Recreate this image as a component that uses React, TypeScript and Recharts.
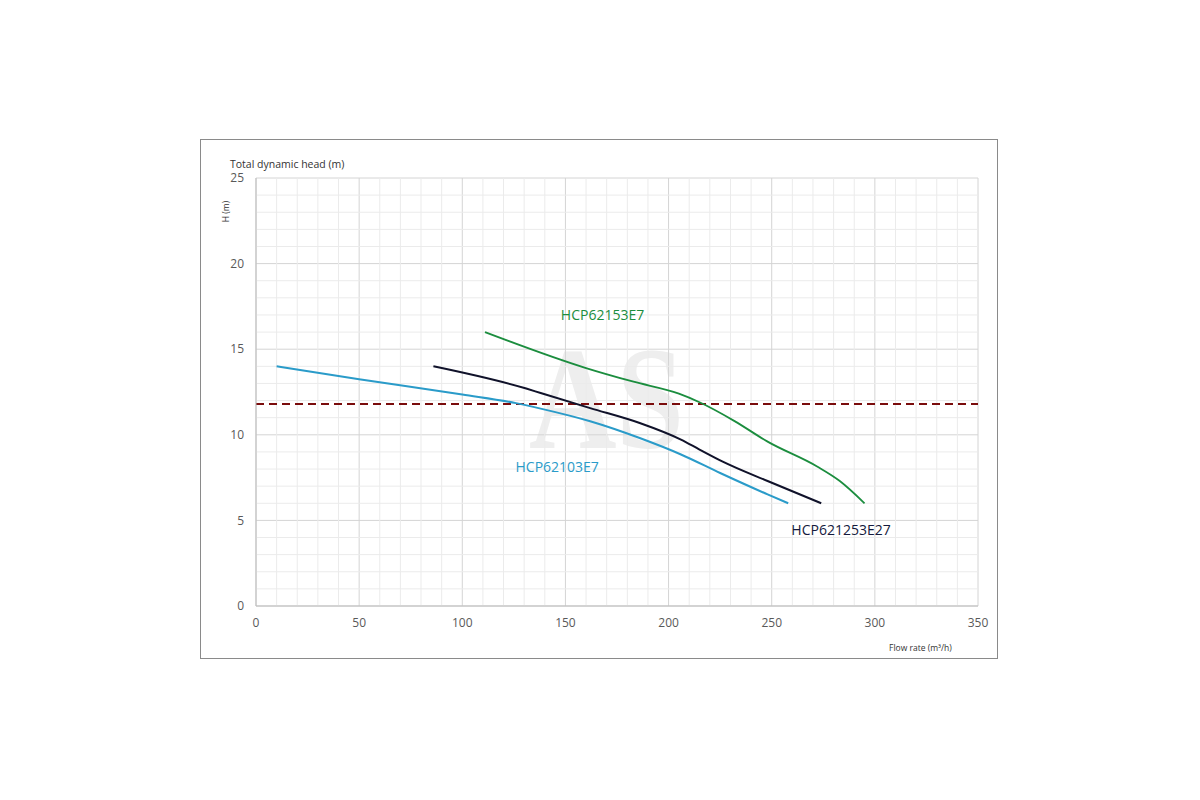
import { CartesianGrid, Line, LineChart, ReferenceDot, ReferenceLine, XAxis, YAxis } from "recharts";

// pump curves: flow rate (m³/h) vs head (m)
const q62103 = [10, 50, 100, 126, 138, 162, 186, 206, 225, 248, 258];
const h62103 = [14.0, 13.25, 12.35, 11.85, 11.53, 10.79, 9.81, 8.85, 7.77, 6.52, 6.0];

const q621253 = [86, 131, 138, 162, 186, 206, 215, 226, 248, 274];
const h621253 = [14.0, 12.7, 12.44, 11.56, 10.69, 9.72, 9.14, 8.45, 7.3, 6.0];

const q62153 = [111, 160, 183, 205, 215, 232, 248, 272, 283, 295];
const h62153 = [16.0, 13.9, 13.1, 12.4, 11.9, 10.8, 9.6, 8.15, 7.3, 6.0];

const dutyHead = 11.8;

const xTicks = [0, 50, 100, 150, 200, 250, 300, 350];
const yTicks = [0, 5, 10, 15, 20, 25];
const xMinor = [10, 20, 30, 40, 60, 70, 80, 90, 110, 120, 130, 140, 160, 170, 180, 190, 210, 220, 230, 240, 260, 270, 280, 290, 310, 320, 330, 340];
const yMinor = [1, 2, 3, 4, 6, 7, 8, 9, 11, 12, 13, 14, 16, 17, 18, 19, 21, 22, 23, 24];

const labels = [
  { name: "HCP62153E7", x: 168, y: 17.0, color: "#1b8d3e" },
  { name: "HCP62103E7", x: 146, y: 8.1, color: "#2a9bc9" },
  { name: "HCP621253E27", x: 283.6, y: 4.43, color: "#141a3c" },
];

const zip = (qs: number[], hs: number[]) => qs.map((q, i) => ({ q, h: hs[i] }));

const font = "'Open Sans', sans-serif";

export default function App() {
  return (
    <div style={{ position: "relative", width: 1184, height: 784, fontFamily: font }}>
      <div style={{ position: "absolute", left: 192, top: 131, width: 798, height: 520, border: "1px solid #8a8a8a", boxSizing: "border-box", background: "#fff" }}>
        {/* faint watermark behind the plot */}
        <svg style={{ position: "absolute", left: 300, top: 160, overflow: "visible" }} width={220} height={200}>
          <text x={28} y={148} fontFamily="'Liberation Serif', serif" fontWeight={700} fontSize={146} fill="#eeeeee"
            textLength={155} lengthAdjust="spacingAndGlyphs">AS</text>
        </svg>
        <div style={{ position: "absolute", left: 29, top: 17, fontSize: 10.5, color: "#333", whiteSpace: "nowrap" }}>Total dynamic head (m)</div>
        <div style={{ position: "absolute", left: 14, top: 66, fontSize: 8.5, color: "#333", transform: "rotate(-90deg)", whiteSpace: "nowrap" }}>H (m)</div>
        <div style={{ position: "absolute", left: 688, top: 502, fontSize: 8.5, color: "#333", whiteSpace: "nowrap" }}>Flow rate (m³/h)</div>
        <div style={{ position: "absolute", left: 0, top: 0 }}>
          <LineChart width={798} height={520} margin={{ top: 38, right: 21, left: 25, bottom: 24 }}>
            {xMinor.map(v => <ReferenceLine key={"vx" + v} x={v} stroke="#ebebeb" strokeWidth={1} />)}
            {yMinor.map(v => <ReferenceLine key={"hy" + v} y={v} stroke="#ebebeb" strokeWidth={1} />)}
            <CartesianGrid stroke="#d4d4d4" />
            <XAxis type="number" dataKey="q" domain={[0, 350]} ticks={xTicks} allowDuplicatedCategory={false}
              axisLine={{ stroke: "#bdbdbd" }} tickLine={false} tickSize={0} tickMargin={12} height={30}
              tick={{ fill: "#595959", fontSize: 12, fontFamily: font }} />
            <YAxis type="number" domain={[0, 25]} ticks={yTicks} width={30}
              axisLine={{ stroke: "#bdbdbd" }} tickLine={false} tickSize={0} tickMargin={12}
              tick={{ fill: "#595959", fontSize: 12, fontFamily: font }} />
            <ReferenceLine y={dutyHead} stroke="#7a0c0c" strokeWidth={2} strokeDasharray="8 5" />
            <Line data={zip(q62103, h62103)} dataKey="h" type="monotone" stroke="#2a9bc9" strokeWidth={2} dot={false} isAnimationActive={false} />
            <Line data={zip(q621253, h621253)} dataKey="h" type="monotone" stroke="#10122a" strokeWidth={2} dot={false} isAnimationActive={false} />
            <Line data={zip(q62153, h62153)} dataKey="h" type="monotone" stroke="#1b8d3e" strokeWidth={1.8} dot={false} isAnimationActive={false} />
            {labels.map(l => (
              <ReferenceDot key={l.name} x={l.x} y={l.y} r={0} stroke="none" fill="none"
                label={{ value: l.name, position: "center", fill: l.color, fontSize: 14, fontFamily: font }} />
            ))}
          </LineChart>
        </div>
      </div>
    </div>
  );
}
